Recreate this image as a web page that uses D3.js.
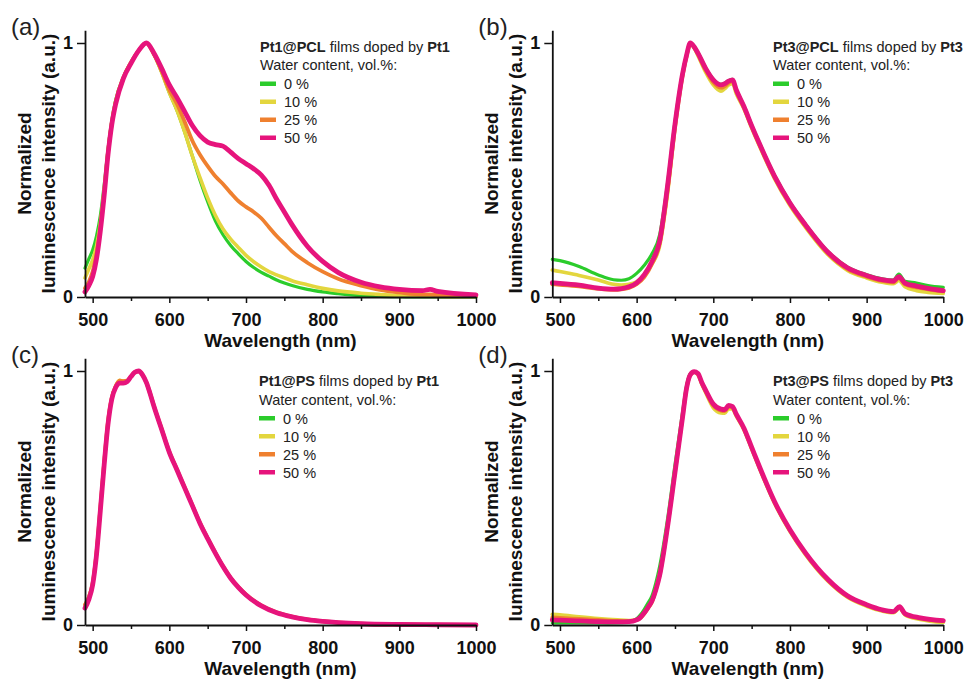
<!DOCTYPE html>
<html>
<head>
<meta charset="utf-8">
<script src="https://cdn.jsdelivr.net/npm/d3@7"></script>
<style>
  body { margin: 0; background: #fff; }
  svg { font-family: "Liberation Sans", Arial, sans-serif; }
</style>
</head>
<body>
<script>
// 1: DATA
const waterLabels = ["0 %", "10 %", "25 %", "50 %"];
const xTicks = [500, 600, 700, 800, 900, 1000];
const xMinorTicks = [550, 650, 750, 850, 950];
const yTicks = [0, 1];

// (a) Pt1@PCL
const wlA = [490, 495, 500, 505, 510, 515, 520, 525, 530, 540, 550, 560, 570, 580, 590, 600, 610, 620, 630, 640, 650, 660, 670, 680, 690, 700, 710, 720, 730, 740, 750, 760, 780, 800, 820, 850, 875, 900, 930, 940, 950, 1000];
const a0  = [0.114, 0.15, 0.185, 0.24, 0.32, 0.44, 0.58, 0.695, 0.775, 0.865, 0.925, 0.97, 1.0, 0.955, 0.885, 0.805, 0.735, 0.65, 0.555, 0.46, 0.375, 0.3, 0.245, 0.203, 0.17, 0.14, 0.116, 0.097, 0.082, 0.067, 0.055, 0.045, 0.03, 0.02, 0.013, 0.005, 0.002, 0.001, 0, 0, 0, 0];
const a10 = [0.075, 0.11, 0.146, 0.2, 0.29, 0.42, 0.57, 0.69, 0.77, 0.865, 0.925, 0.97, 1.0, 0.955, 0.885, 0.805, 0.735, 0.65, 0.555, 0.47, 0.39, 0.322, 0.268, 0.228, 0.195, 0.164, 0.139, 0.118, 0.1, 0.087, 0.076, 0.064, 0.048, 0.034, 0.024, 0.015, 0.01, 0.006, 0.003, 0.003, 0.002, 0.001];
const a25 = [0.035, 0.06, 0.1, 0.17, 0.27, 0.41, 0.57, 0.685, 0.765, 0.862, 0.922, 0.97, 1.0, 0.955, 0.89, 0.815, 0.76, 0.69, 0.615, 0.56, 0.515, 0.475, 0.445, 0.41, 0.378, 0.355, 0.335, 0.31, 0.275, 0.24, 0.21, 0.18, 0.135, 0.1, 0.072, 0.045, 0.028, 0.018, 0.01, 0.01, 0.008, 0.004];
const a50 = [0.02, 0.045, 0.08, 0.15, 0.26, 0.4, 0.56, 0.68, 0.76, 0.86, 0.92, 0.97, 1.0, 0.96, 0.9, 0.835, 0.785, 0.73, 0.675, 0.635, 0.61, 0.6, 0.594, 0.57, 0.545, 0.525, 0.505, 0.48, 0.44, 0.385, 0.335, 0.285, 0.2, 0.14, 0.097, 0.058, 0.04, 0.03, 0.025, 0.03, 0.022, 0.008];

// (b) Pt3@PCL
const wlB = [490, 500, 525, 550, 570, 580, 590, 600, 610, 620, 630, 640, 650, 660, 665, 670, 675, 680, 690, 700, 710, 715, 720, 725, 730, 740, 750, 760, 780, 800, 820, 850, 875, 900, 920, 935, 942, 950, 965, 980, 1000];
const b0  = [0.148, 0.143, 0.12, 0.087, 0.068, 0.066, 0.072, 0.093, 0.125, 0.17, 0.245, 0.44, 0.69, 0.885, 0.952, 1.0, 0.987, 0.962, 0.902, 0.857, 0.837, 0.842, 0.852, 0.857, 0.817, 0.752, 0.678, 0.608, 0.478, 0.373, 0.288, 0.178, 0.118, 0.088, 0.072, 0.067, 0.09, 0.062, 0.055, 0.045, 0.038];
const b10 = [0.106, 0.1, 0.085, 0.067, 0.05, 0.047, 0.05, 0.06, 0.085, 0.13, 0.2, 0.4, 0.66, 0.87, 0.945, 0.995, 0.98, 0.95, 0.885, 0.835, 0.81, 0.82, 0.835, 0.84, 0.8, 0.74, 0.665, 0.595, 0.465, 0.36, 0.275, 0.165, 0.105, 0.075, 0.058, 0.052, 0.065, 0.04, 0.025, 0.018, 0.014];
const b25 = [0.05, 0.048, 0.042, 0.032, 0.028, 0.03, 0.036, 0.05, 0.078, 0.13, 0.21, 0.41, 0.67, 0.875, 0.948, 0.998, 0.983, 0.955, 0.893, 0.845, 0.823, 0.83, 0.843, 0.85, 0.81, 0.745, 0.67, 0.6, 0.47, 0.365, 0.28, 0.17, 0.11, 0.08, 0.063, 0.058, 0.074, 0.05, 0.038, 0.03, 0.022];
const b50 = [0.056, 0.054, 0.047, 0.035, 0.031, 0.033, 0.04, 0.056, 0.088, 0.14, 0.22, 0.43, 0.68, 0.88, 0.95, 1.0, 0.985, 0.96, 0.9, 0.855, 0.835, 0.84, 0.85, 0.855, 0.815, 0.75, 0.675, 0.605, 0.475, 0.37, 0.285, 0.175, 0.115, 0.085, 0.068, 0.063, 0.08, 0.055, 0.043, 0.034, 0.025];

// (c) Pt1@PS
const wlC = [490, 495, 500, 505, 510, 515, 520, 525, 530, 535, 540, 545, 550, 555, 560, 565, 570, 575, 580, 590, 600, 610, 620, 630, 640, 650, 660, 670, 680, 690, 700, 720, 740, 760, 780, 800, 850, 900, 950, 1000];
const c0  = [0.07, 0.1, 0.158, 0.276, 0.45, 0.63, 0.79, 0.89, 0.935, 0.955, 0.955, 0.96, 0.978, 0.995, 1.0, 0.985, 0.955, 0.91, 0.86, 0.77, 0.68, 0.61, 0.54, 0.47, 0.4, 0.34, 0.283, 0.23, 0.184, 0.148, 0.118, 0.075, 0.048, 0.032, 0.021, 0.014, 0.005, 0.002, 0.001, 0];
const c10 = [0.08, 0.11, 0.165, 0.285, 0.46, 0.64, 0.8, 0.895, 0.94, 0.963, 0.96, 0.962, 0.978, 0.995, 1.0, 0.985, 0.955, 0.91, 0.86, 0.77, 0.68, 0.61, 0.54, 0.47, 0.4, 0.34, 0.283, 0.23, 0.184, 0.148, 0.118, 0.075, 0.048, 0.032, 0.021, 0.014, 0.005, 0.002, 0.001, 0];
const c25 = [0.08, 0.11, 0.165, 0.285, 0.46, 0.64, 0.8, 0.895, 0.94, 0.962, 0.96, 0.962, 0.978, 0.995, 1.0, 0.985, 0.955, 0.912, 0.862, 0.772, 0.682, 0.612, 0.542, 0.472, 0.402, 0.342, 0.285, 0.232, 0.186, 0.15, 0.12, 0.077, 0.05, 0.033, 0.022, 0.015, 0.005, 0.002, 0.001, 0];
const c50 = [0.066, 0.1, 0.158, 0.276, 0.45, 0.63, 0.79, 0.89, 0.935, 0.952, 0.952, 0.958, 0.978, 0.995, 1.0, 0.985, 0.955, 0.91, 0.86, 0.77, 0.68, 0.61, 0.54, 0.47, 0.4, 0.34, 0.283, 0.23, 0.184, 0.148, 0.118, 0.075, 0.048, 0.032, 0.021, 0.014, 0.005, 0.002, 0.001, 0];

// (d) Pt3@PS
const wlD = [490, 500, 525, 550, 575, 590, 600, 605, 610, 615, 620, 625, 630, 640, 650, 660, 665, 670, 675, 680, 685, 690, 700, 710, 715, 720, 725, 730, 740, 750, 760, 780, 800, 820, 850, 875, 900, 920, 935, 943, 950, 970, 1000];
const d0  = [0.008, 0.008, 0.008, 0.008, 0.009, 0.012, 0.025, 0.04, 0.062, 0.087, 0.115, 0.165, 0.23, 0.41, 0.63, 0.84, 0.94, 0.99, 0.998, 0.99, 0.955, 0.925, 0.868, 0.848, 0.846, 0.862, 0.858, 0.828, 0.772, 0.697, 0.622, 0.482, 0.372, 0.282, 0.175, 0.113, 0.078, 0.059, 0.052, 0.07, 0.044, 0.027, 0.016];
const d10 = [0.042, 0.04, 0.032, 0.025, 0.02, 0.018, 0.02, 0.028, 0.045, 0.068, 0.092, 0.14, 0.2, 0.385, 0.605, 0.825, 0.93, 0.985, 0.995, 0.985, 0.948, 0.915, 0.855, 0.835, 0.834, 0.852, 0.85, 0.822, 0.768, 0.693, 0.618, 0.478, 0.368, 0.278, 0.171, 0.109, 0.074, 0.055, 0.048, 0.066, 0.04, 0.022, 0.01];
const d25 = [0.03, 0.028, 0.024, 0.02, 0.016, 0.015, 0.02, 0.028, 0.045, 0.066, 0.09, 0.138, 0.196, 0.382, 0.602, 0.822, 0.93, 0.985, 0.996, 0.988, 0.952, 0.92, 0.864, 0.844, 0.842, 0.86, 0.856, 0.826, 0.772, 0.697, 0.622, 0.482, 0.372, 0.282, 0.175, 0.113, 0.078, 0.058, 0.051, 0.07, 0.043, 0.026, 0.015];
const d50 = [0.02, 0.019, 0.016, 0.013, 0.012, 0.013, 0.02, 0.03, 0.048, 0.07, 0.095, 0.138, 0.195, 0.38, 0.6, 0.82, 0.93, 0.985, 0.997, 0.99, 0.955, 0.925, 0.87, 0.85, 0.848, 0.865, 0.86, 0.83, 0.775, 0.7, 0.625, 0.485, 0.375, 0.285, 0.178, 0.115, 0.08, 0.06, 0.053, 0.072, 0.045, 0.028, 0.017];

// 2: STYLE / LAYOUT
const colors = ["#2bcc2b", "#e3d63e", "#ef802f", "#e6147c"];
const lineWidths = [3.2, 3.6, 3.8, 4.8];
const plotW = 391;
const unitH = 254;

const panels = [
    { tag: "(a)", left: 85, bottom: 297, wl: wlA, ys: [a0, a10, a25, a50], host: "Pt1@PCL", dopant: "Pt1", legX: 260, legY: 51.5 },
    { tag: "(b)", left: 552.3, bottom: 297, wl: wlB, ys: [b0, b10, b25, b50], host: "Pt3@PCL", dopant: "Pt3", legX: 773, legY: 51.5 },
    { tag: "(c)", left: 85, bottom: 625, wl: wlC, ys: [c0, c10, c25, c50], host: "Pt1@PS", dopant: "Pt1", legX: 259, legY: 386 },
    { tag: "(d)", left: 552.3, bottom: 625, wl: wlD, ys: [d0, d10, d25, d50], host: "Pt3@PS", dopant: "Pt3", legX: 773, legY: 386 }
];

const svg = d3.select("body")
    .append("svg")
    .attr("width", 965)
    .attr("height", 684);

panels.forEach(p => {
    const x = d3.scaleLinear().domain([490, 1000]).range([p.left, p.left + plotW]);
    const y = d3.scaleLinear().domain([0, 1.05]).range([p.bottom, p.bottom - unitH * 1.05]);

    // curves (0 % first, 50 % on top)
    const line = d3.line()
        .x(d => x(d[0]))
        .y(d => y(d[1]))
        .curve(d3.curveMonotoneX);

    p.ys.forEach((vals, i) => {
        svg.append("path")
            .datum(p.wl.map((w, k) => [w, vals[k]]))
            .attr("fill", "none")
            .attr("stroke", colors[i])
            .attr("stroke-width", lineWidths[i])
            .attr("stroke-linejoin", "round")
            .attr("stroke-linecap", "round")
            .attr("d", line);
    });

    // x axis
    const gx = svg.append("g")
        .attr("transform", `translate(0,${p.bottom})`)
        .call(d3.axisBottom(x).tickValues(xTicks).tickFormat(d3.format("d")).tickSize(6).tickSizeOuter(0));
    gx.selectAll("text")
        .attr("y", 29).attr("dy", null)
        .style("font-size", "18px").style("font-weight", "bold").attr("fill", "#111");

    svg.append("g")
        .attr("transform", `translate(0,${p.bottom})`)
        .call(d3.axisBottom(x).tickValues(xMinorTicks).tickSize(4).tickFormat(""))
        .call(g => g.select(".domain").remove());

    // y axis
    const gy = svg.append("g")
        .attr("transform", `translate(${p.left},0)`)
        .call(d3.axisLeft(y).tickValues(yTicks).tickFormat(d3.format("d")).tickSize(8).tickPadding(4).tickSizeOuter(0));
    gy.selectAll("text")
        .style("font-size", "18px").style("font-weight", "bold").attr("fill", "#111");

    svg.selectAll(".domain").attr("stroke", "#111").attr("stroke-width", 1.8);
    svg.selectAll(".tick line").attr("stroke", "#111").attr("stroke-width", 1.5);

    // axis labels
    svg.append("text")
        .attr("x", p.left + plotW / 2)
        .attr("y", p.bottom + 50)
        .attr("text-anchor", "middle")
        .style("font-size", "19px").style("font-weight", "bold").attr("fill", "#111")
        .text("Wavelength (nm)");

    const yl = svg.append("g")
        .attr("transform", `translate(${p.left},${p.bottom - 133.5}) rotate(-90)`);
    yl.append("text")
        .attr("y", -54).attr("text-anchor", "middle")
        .style("font-size", "19px").style("font-weight", "bold").attr("fill", "#111")
        .text("Normalized");
    yl.append("text")
        .attr("y", -30).attr("text-anchor", "middle")
        .style("font-size", "19px").style("font-weight", "bold").attr("fill", "#111")
        .text("luminescence intensity (a.u.)");

    // panel tag
    svg.append("text")
        .attr("x", p.left - 74)
        .attr("y", p.bottom - 262)
        .style("font-size", "24px").attr("fill", "#222")
        .text(p.tag);

    // legend
    const title = svg.append("text")
        .attr("x", p.legX).attr("y", p.legY)
        .style("font-size", "14.5px").attr("fill", "#222");
    title.append("tspan").style("font-weight", "bold").text(p.host);
    title.append("tspan").text(" films doped by ");
    title.append("tspan").style("font-weight", "bold").text(p.dopant);

    svg.append("text")
        .attr("x", p.legX).attr("y", p.legY + 18.5)
        .style("font-size", "14.5px").attr("fill", "#222")
        .text("Water content, vol.%:");

    waterLabels.forEach((lab, i) => {
        const by = p.legY + 37.5 + i * 18;
        svg.append("rect")
            .attr("x", p.legX).attr("y", by - 7.5)
            .attr("width", 16).attr("height", 4.5)
            .attr("fill", colors[i]);
        svg.append("text")
            .attr("x", p.legX + 24).attr("y", by)
            .style("font-size", "14.5px").attr("fill", "#222")
            .text(lab);
    });
});
</script>
</body>
</html>
